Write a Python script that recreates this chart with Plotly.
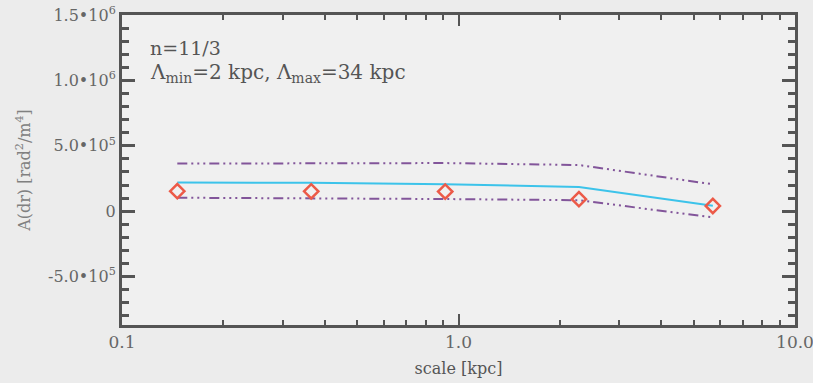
import plotly.graph_objects as go

scale = [0.146, 0.365, 0.913, 2.28, 5.7]
a_obs = [1.53e5, 1.52e5, 1.50e5, 0.92e5, 0.40e5]
a_model = [2.19e5, 2.18e5, 2.07e5, 1.85e5, 0.42e5]
a_upper = [3.64e5, 3.64e5, 3.68e5, 3.53e5, 2.06e5]
a_lower = [1.03e5, 0.99e5, 0.93e5, 0.84e5, -0.47e5]

y_tickvals = [-5e5, 0, 5e5, 1e6, 1.5e6]
y_ticktext = ["-5.0•10<sup>5</sup>", "0", "5.0•10<sup>5</sup>", "1.0•10<sup>6</sup>", "1.5•10<sup>6</sup>"]
x_tickvals = [0.1, 1.0, 10.0]
x_ticktext = ["0.1", "1.0", "10.0"]
x_minor = [0.2, 0.3, 0.4, 0.5, 0.6, 0.7, 0.8, 0.9, 2, 3, 4, 5, 6, 7, 8, 9]

FONT = "DejaVu Serif, Liberation Serif, serif"
AX = "#555555"
BG = "#ececec"
dash = "10px,4px,2px,4px,2px,4px,2px,4px"

fig = go.Figure()
fig.add_trace(go.Scatter(x=scale, y=a_upper, mode="lines",
                         line=dict(color="#82559a", width=2, dash=dash)))
fig.add_trace(go.Scatter(x=scale, y=a_lower, mode="lines",
                         line=dict(color="#82559a", width=2, dash=dash)))
fig.add_trace(go.Scatter(x=scale, y=a_model, mode="lines",
                         line=dict(color="#3cc3ea", width=2)))
fig.add_trace(go.Scatter(x=scale, y=a_obs, mode="markers",
                         marker=dict(symbol="diamond-open", size=11, color="#ec5a48",
                                     line=dict(width=2.5, color="#ec5a48"))))

fig.update_layout(
    width=813, height=383,
    margin=dict(l=122, r=18, t=15, b=58, autoexpand=False),
    paper_bgcolor=BG, plot_bgcolor="#f0f0f0",
    showlegend=False,
    font=dict(family=FONT, color="#666666", size=16),
)
fig.update_xaxes(type="log", range=[-1, 1], automargin=False, ticklabeloverflow="allow",
                 tickmode="array", tickvals=x_tickvals, ticktext=x_ticktext,
                 ticks="inside", ticklen=11, tickwidth=2, tickcolor=AX,
                 minor=dict(tickmode="array", tickvals=x_minor, ticks="inside",
                            ticklen=5, tickwidth=2, tickcolor=AX, showgrid=False),
                 showline=True, linewidth=3, linecolor=AX, mirror="allticks",
                 showgrid=False, zeroline=False,
                 tickfont=dict(size=17, color="#666666"),
                 title=dict(text="scale [kpc]", font=dict(size=16, color="#555555"), standoff=12))
fig.update_yaxes(range=[-8.7e5, 1.5e6], automargin=False, ticklabeloverflow="allow",
                 tickmode="array", tickvals=y_tickvals, ticktext=y_ticktext,
                 ticks="inside", ticklen=13, tickwidth=2.5, tickcolor=AX,
                 minor=dict(dtick=1e5, tick0=0, ticks="inside", ticklen=7,
                            tickwidth=2.5, tickcolor=AX, showgrid=False),
                 showline=True, linewidth=3, linecolor=AX, mirror="allticks",
                 showgrid=False, zeroline=False,
                 tickfont=dict(size=16, color="#666666"),
                 title=dict(text="A(dr) [rad<sup>2</sup>/m<sup>4</sup>]",
                            font=dict(size=16, color="#808080"), standoff=14))

fig.add_annotation(xref="paper", yref="paper", x=0.038, y=0.895, xanchor="left", yanchor="middle",
                   text="n=11/3", showarrow=False, font=dict(size=19, color="#555555"))
fig.add_annotation(xref="paper", yref="paper", x=0.038, y=0.812, xanchor="left", yanchor="middle",
                   text="Λ<sub>min</sub>=2 kpc, Λ<sub>max</sub>=34 kpc", showarrow=False,
                   font=dict(size=20, color="#555555"))

fig.write_html("out.html", config={"displayModeBar": False},
               post_script="document.body.style.margin='0';document.body.style.background='%s';" % BG)
